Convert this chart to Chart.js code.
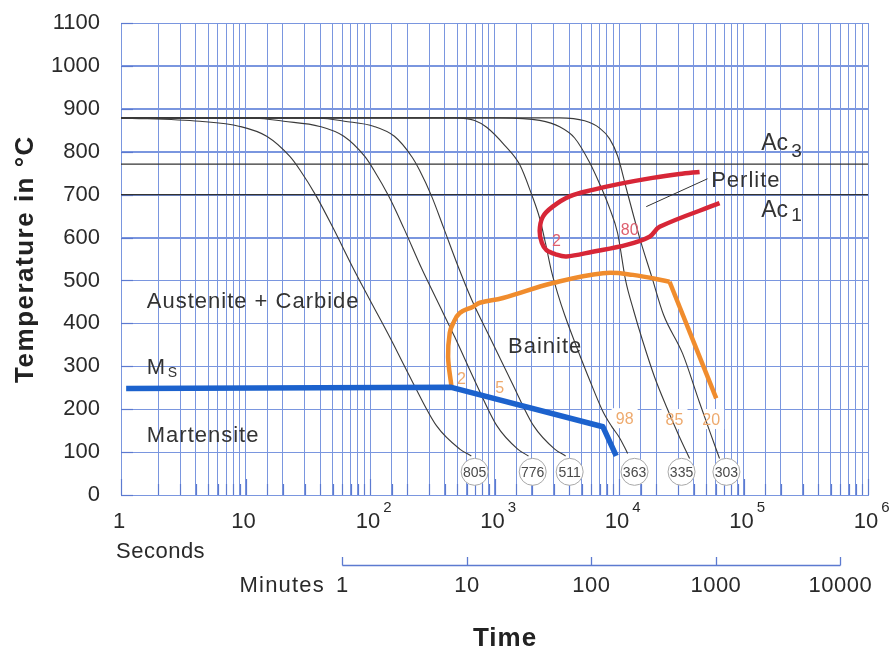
<!DOCTYPE html>
<html>
<head>
<meta charset="utf-8">
<script src="https://cdn.jsdelivr.net/npm/chart.js@4.4.1/dist/chart.umd.min.js"></script>
<style>
  html, body { margin: 0; padding: 0; background: #fff; }
  #wrap { width: 890px; height: 648px; }
</style>
</head>
<body>
<div id="wrap"><canvas id="cct" width="890" height="648"></canvas></div>
<script>
// ---- axis ticks ----
const tempTicks = [0, 100, 200, 300, 400, 500, 600, 700, 800, 900, 1000, 1100];
const secondDecades = [1, 10, 100, 1000, 10000, 100000, 1000000];
const secondLabels = [['1', ''], ['10', ''], ['10', '2'], ['10', '3'], ['10', '4'], ['10', '5'], ['10', '6']];
const minuteTicks = [1, 10, 100, 1000, 10000];
const minuteLabels = ['1', '10', '100', '1000', '10000'];

// ---- critical temperatures (°C) ----
const ac3Temp = 771;
const ac1Temp = 700;

// ---- cooling curves: [time s, temperature °C] ----
const cool805 = [[1,879],[4.3,871],[9,859],[14.8,836],[22.7,789],[27.3,758],[37.1,696],[50.6,622],[73.1,529],[99.6,455],[144,368],[220,263],[343,161],[526,107],[651,91]];
const cool776 = [[1,879],[12,878],[20.3,871],[39.5,859],[61.6,836],[90.8,789],[107,758],[141.6,696],[186.8,622],[259,529],[343.6,455],[479.6,368],[703,263],[1047,161],[1535,107],[1875,91]];
const cool511 = [[1,879],[40,878],[62.2,871],[108,859],[157,836],[216,789],[249,758],[313,696],[391,622],[516,529],[656,455],[915,368],[1374,263],[2064,161],[3044,107],[3727,91]];
const cool363 = [[1,879],[480,879],[693,873],[865,857],[1207,815],[1593,770],[1989,700],[2306,645],[2576,585],[2877,520],[3215,470],[3657,420],[4566,345],[5808,268],[7388,196],[8725,160],[10120,133],[11730,97]];
const cool335 = [[1,879],[1101,879],[2306,873],[3337,858],[4402,832],[5808,775],[6993,725],[8413,668],[9750,610],[11300,500],[13100,430],[15460,360],[19300,275],[24100,205],[30100,140],[36900,85]];
const cool303 = [[1,879],[3337,879],[5296,872],[6993,855],[8413,830],[9750,790],[11500,712],[14630,600],[18260,510],[22790,420],[32380,330],[44400,215],[53300,150],[64200,85]];

// ---- hardness (HV) at the end of each cooling curve ----
const hardnessValues = [805, 776, 511, 363, 335, 303];
const hardnessTimes = [693, 2027, 4015, 13330, 31790, 72900];
const hardnessTemp = 54;

// ---- transformation boundaries ----
const msLine = [[1.1,248],[450,251],[7430,159],[9500,91]];
const bainiteNose = [[451,253],[424,322],[437,378],[465,400],[526,424],[673,439],[761,448],[1170,459],[2950,494],[7430,517],[12940,513],[25470,497]];
const bainiteTail = [[25470,497],[60400,225]];
const perliteLoop = [[44400,753],[30600,748],[18600,739],[10100,725],[6140,711],[4015,696],[2933,672],[2440,648],[2306,615],[2400,588],[2610,571],[3100,561],[3776,556],[6140,567],[11500,583],[17600,602],[21200,625],[64200,680]];
const perliteLeader = [[16550,672],[51400,737]];

// ---- percentage of transformed structure ----
const bainitePct = [['2',542,272],['5',1101,251],['98',11100,179],['85',27900,177],['20',55000,177]];
const perlitePct = [['2',3140,595],['80',12200,620]];

// ---- phase field names [text, time s, temperature at baseline °C] ----
const fieldNames = [['Austenite + Carbide',1.61,435],['Martensite',1.61,124],['Bainite',1283,332],['Perlite',55000,718]];

const FONT = "'Liberation Sans', Arial, Helvetica, sans-serif";
const GRID = 'rgb(122,150,223)';
const TICKBLUE = 'rgb(92,122,208)';
const TEXT = '#2a2a2a';

const pts = arr => arr.map(p => ({ x: p[0], y: p[1] }));

function lineSet(data, color, width, tension, order, mono) {
  return {
    data: pts(data), showLine: true, borderColor: color, borderWidth: width,
    pointRadius: 0, tension: tension, order: order || 0, fill: false,
    cubicInterpolationMode: mono ? 'monotone' : 'default',
    borderCapStyle: 'butt', borderJoinStyle: 'round'
  };
}

function drawText(ctx, s, x, y, font, color, align, ls) {
  ctx.save();
  ctx.font = font;
  ctx.fillStyle = color;
  ctx.textAlign = align || 'left';
  ctx.textBaseline = 'alphabetic';
  if ('letterSpacing' in ctx) ctx.letterSpacing = (ls || 0) + 'px';
  ctx.fillText(s, x, y);
  ctx.restore();
}

// grid rows, inner ticks along the frame, white patches under the percentage numbers
const underlayPlugin = {
  id: 'underlay',
  beforeDatasetsDraw(chart) {
    const { ctx, scales: { x, y }, chartArea: a } = chart;
    ctx.save();
    ctx.strokeStyle = GRID;
    ctx.lineWidth = 1;
    tempTicks.forEach(v => {
      const py = Math.round(y.getPixelForValue(v)) + 0.5;
      ctx.beginPath(); ctx.moveTo(a.left, py); ctx.lineTo(a.right, py); ctx.stroke();
    });
    ctx.strokeStyle = TICKBLUE;
    ctx.lineWidth = 1.2;
    tempTicks.forEach(v => {
      const py = Math.round(y.getPixelForValue(v)) + 0.5;
      ctx.beginPath(); ctx.moveTo(a.left, py); ctx.lineTo(a.left + 12, py); ctx.stroke();
    });
    x.ticks.forEach(t => {
      const px = Math.round(x.getPixelForValue(t.value)) + 0.5;
      const major = secondDecades.includes(t.value);
      ctx.beginPath(); ctx.moveTo(px, a.bottom); ctx.lineTo(px, a.bottom - (major ? 16 : 11)); ctx.stroke();
    });
    ctx.fillStyle = '#fff';
    bainitePct.slice(2).forEach(p => {
      const px = x.getPixelForValue(p[1]), py = y.getPixelForValue(p[2]);
      ctx.fillRect(px - 13, py - 10, 26, 20);
    });
    ctx.restore();
  },
  afterDatasetsDraw(chart) {
    const { ctx, scales: { x, y } } = chart;

    // hardness numbers inside the circles
    hardnessValues.forEach((v, i) => {
      const px = x.getPixelForValue(hardnessTimes[i]), py = y.getPixelForValue(hardnessTemp);
      drawText(ctx, String(v), px, py + 5, '14px ' + FONT, '#4a4a4a', 'center', 0);
    });

    // percentage numbers
    bainitePct.forEach(p => {
      const px = x.getPixelForValue(p[1]), py = y.getPixelForValue(p[2]);
      drawText(ctx, p[0], px, py + 6, '16px ' + FONT, 'rgb(238,170,110)', 'center', 0);
    });
    perlitePct.forEach(p => {
      const px = x.getPixelForValue(p[1]), py = y.getPixelForValue(p[2]);
      drawText(ctx, p[0], px, py + 6, '16px ' + FONT, 'rgb(222,95,110)', 'center', 0);
    });

    // phase fields
    fieldNames.forEach(f => {
      drawText(ctx, f[0], x.getPixelForValue(f[1]), y.getPixelForValue(f[2]), '22px ' + FONT, '#333', 'left', 1);
    });

    // Ms, Ac3, Ac1
    const msX = x.getPixelForValue(1.61), msY = y.getPixelForValue(283);
    drawText(ctx, 'M', msX, msY, '22px ' + FONT, '#333', 'left', 0);
    drawText(ctx, 'S', msX + 21, msY + 3, '14px ' + FONT, '#333', 'left', 0);
    const acX = x.getPixelForValue(138700);
    const ac3Y = y.getPixelForValue(805), ac1Y = y.getPixelForValue(649);
    drawText(ctx, 'Ac', acX, ac3Y, '23px ' + FONT, '#333', 'left', 0);
    drawText(ctx, '3', acX + 30, ac3Y + 7, '19px ' + FONT, '#333', 'left', 0);
    drawText(ctx, 'Ac', acX, ac1Y, '23px ' + FONT, '#333', 'left', 0);
    drawText(ctx, '1', acX + 30, ac1Y + 4, '19px ' + FONT, '#333', 'left', 0);
  },
  afterDraw(chart) {
    const { ctx, scales: { x }, chartArea: a } = chart;

    // seconds scale labels
    secondDecades.forEach((v, i) => {
      const px = x.getPixelForValue(v) - 2;
      const [base, sup] = secondLabels[i];
      ctx.save();
      ctx.font = '22px ' + FONT;
      const w = ctx.measureText(base).width;
      ctx.restore();
      drawText(ctx, base, px, 528, '22px ' + FONT, TEXT, 'center', 0);
      if (sup) drawText(ctx, sup, px + w / 2 + 3, 512, '15px ' + FONT, TEXT, 'left', 0);
    });
    drawText(ctx, 'Seconds', 116, 558, '22px ' + FONT, TEXT, 'left', 0.5);

    // minutes scale
    const mx = minuteTicks.map(m => x.getPixelForValue(m * 60));
    ctx.save();
    ctx.strokeStyle = TICKBLUE;
    ctx.lineWidth = 1.3;
    ctx.beginPath();
    ctx.moveTo(mx[0], 565.5); ctx.lineTo(mx[mx.length - 1], 565.5);
    mx.forEach(px => { ctx.moveTo(Math.round(px) + 0.5, 565.5); ctx.lineTo(Math.round(px) + 0.5, 557); });
    ctx.stroke();
    ctx.restore();
    minuteLabels.forEach((s, i) => drawText(ctx, s, mx[i], 592, '22px ' + FONT, TEXT, 'center', 0.5));
    drawText(ctx, 'Minutes', 325, 592, '22px ' + FONT, TEXT, 'right', 1.2);

    // axis titles
    drawText(ctx, 'Time', 505, 646, 'bold 26px ' + FONT, '#222', 'center', 1);
    ctx.save();
    ctx.translate(33, (a.top + a.bottom) / 2);
    ctx.rotate(-Math.PI / 2);
    drawText(ctx, 'Temperature in °C', 0, 0, 'bold 26px ' + FONT, '#222', 'center', 1.5);
    ctx.restore();
  }
};

const datasets = [
  lineSet([[1, ac3Temp], [1e6, ac3Temp]], '#333', 1.3, 0, 5),
  lineSet([[1, ac1Temp], [1e6, ac1Temp]], '#333', 1.3, 0, 5),
  lineSet(cool805, '#3a3a3a', 1.1, 0, 4, true),
  lineSet(cool776, '#3a3a3a', 1.1, 0, 4, true),
  lineSet(cool511, '#3a3a3a', 1.1, 0, 4, true),
  lineSet(cool363, '#3a3a3a', 1.1, 0, 4, true),
  lineSet(cool335, '#3a3a3a', 1.1, 0, 4, true),
  lineSet(cool303, '#3a3a3a', 1.1, 0, 4, true),
  lineSet(perliteLeader, '#333', 1, 0, 4),
  lineSet(msLine, 'rgb(28,98,205)', 5.5, 0, 2),
  lineSet(bainiteNose, 'rgb(240,140,45)', 4.5, 0.4, 3),
  lineSet(bainiteTail, 'rgb(240,140,45)', 4.5, 0, 3),
  lineSet(perliteLoop, 'rgb(215,38,55)', 4.5, 0.35, 3),
  {
    data: hardnessTimes.map(t => ({ x: t, y: hardnessTemp })),
    showLine: false, pointRadius: 13.5, pointHoverRadius: 13.5,
    pointBackgroundColor: '#fff', pointBorderColor: '#a8a8a8', pointBorderWidth: 1, order: -1
  }
];

new Chart(document.getElementById('cct'), {
  type: 'scatter',
  data: { datasets },
  options: {
    responsive: false,
    animation: false,
    devicePixelRatio: 1,
    layout: { padding: { top: 23, right: 22, bottom: 0, left: 0 } },
    plugins: { legend: { display: false }, tooltip: { enabled: false } },
    scales: {
      x: {
        type: 'logarithmic', min: 1, max: 1e6,
        grid: { display: true, drawOnChartArea: true, color: GRID, lineWidth: 1, drawTicks: false },
        border: { display: true, color: GRID, width: 1 },
        ticks: { display: false },
        afterFit: s => { s.height = 153; }
      },
      y: {
        type: 'linear', min: 0, max: 1100,
        grid: { display: true, drawOnChartArea: true, color: GRID, lineWidth: 1, drawTicks: true, tickLength: 21, tickColor: 'rgba(0,0,0,0)' },
        border: { display: true, color: GRID, width: 1 },
        ticks: { stepSize: 100, padding: 0, color: TEXT, font: { family: FONT, size: 22 }, callback: v => String(v) },
        afterFit: s => { s.width = 121; s.paddingTop = 0; s.paddingBottom = 0; }
      }
    }
  },
  plugins: [underlayPlugin]
});
</script>
</body>
</html>
